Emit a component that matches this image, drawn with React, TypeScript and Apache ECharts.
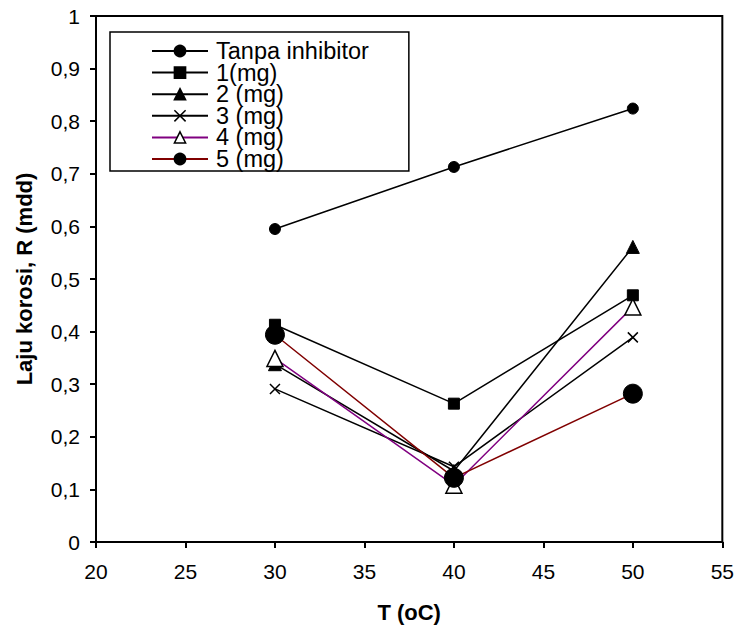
import React, { useEffect, useRef } from "react";
import * as echarts from "echarts";

const temps = [30, 40, 50];
const seriesNames = ["Tanpa inhibitor", "1(mg)", "2 (mg)", "3 (mg)", "4 (mg)", "5 (mg)"];
const tanpa = [0.595, 0.713, 0.824];
const mg1 = [0.413, 0.263, 0.469];
const mg2 = [0.338, 0.135, 0.561];
const mg3 = [0.291, 0.143, 0.389];
const mg4 = [0.349, 0.108, 0.447];
const mg5 = [0.394, 0.122, 0.282];

const FONT = "'Liberation Sans', Arial, sans-serif";
const CROSS = "path://M0,0L10,10M10,0L0,10";

function pairs(vals: number[]) {
  return temps.map((t, i) => [t, vals[i]]);
}

export default function App() {
  const ref = useRef<HTMLDivElement>(null);
  useEffect(() => {
    if (!ref.current) return;
    const chart = echarts.init(ref.current, null, { renderer: "svg" });
    const mk = (
      name: string,
      vals: number[],
      symbol: string,
      size: number,
      lineColor: string,
      fill: string,
      bw: number
    ) => ({
      type: "line",
      name,
      data: pairs(vals),
      symbol,
      symbolSize: size,
      showAllSymbol: true,
      lineStyle: { color: lineColor, width: 1.5 },
      itemStyle: { color: fill, borderColor: "#000", borderWidth: bw },
      emphasis: { disabled: true },
    });
    chart.setOption({
      animation: false,
      backgroundColor: "#fff",
      textStyle: { fontFamily: FONT },
      grid: {
        left: 96,
        top: 16,
        right: 12,
        bottom: 86,
        show: true,
        borderColor: "#000",
        borderWidth: 2,
      },
      legend: {
        data: seriesNames,
        orient: "vertical",
        left: 110,
        top: 32,
        padding: [7, 40, 0, 41],
        itemGap: -2.4,
        itemWidth: 56,
        itemHeight: 14,
        selectedMode: false,
        borderColor: "#000",
        borderWidth: 1.5,
        backgroundColor: "#fff",
        itemStyle: { borderWidth: 1.5 },
        textStyle: {
          fontFamily: FONT,
          fontSize: 23.5,
          lineHeight: 22,
          color: "#000",
          padding: [0, 0, 0, 3],
        },
      },
      xAxis: {
        type: "value",
        min: 20,
        max: 55,
        interval: 5,
        name: "T (oC)",
        nameLocation: "middle",
        nameGap: 59,
        nameTextStyle: { fontFamily: FONT, fontSize: 22, fontWeight: "bold", color: "#000" },
        axisLine: { lineStyle: { color: "#000", width: 2 } },
        axisTick: { show: true, inside: false, length: 6, lineStyle: { color: "#000", width: 2 } },
        axisLabel: { fontFamily: FONT, fontSize: 21, color: "#000", margin: 19 },
        splitLine: { show: false },
      },
      yAxis: {
        type: "value",
        min: 0,
        max: 1,
        interval: 0.1,
        name: "Laju korosi, R (mdd)",
        nameLocation: "middle",
        nameGap: 61,
        nameTextStyle: { fontFamily: FONT, fontSize: 22, fontWeight: "bold", color: "#000" },
        axisLine: { lineStyle: { color: "#000", width: 2 } },
        axisTick: { show: true, inside: false, length: 6, lineStyle: { color: "#000", width: 2 } },
        axisLabel: {
          fontFamily: FONT,
          fontSize: 21,
          color: "#000",
          margin: 16,
          formatter: (v: number) => {
            const r = Math.round(v * 10) / 10;
            if (r === 0) return "0";
            if (r === 1) return "1";
            return r.toFixed(1).replace(".", ",");
          },
        },
        splitLine: { show: false },
      },
      series: [
        mk(seriesNames[0], tanpa, "circle", 11, "#000", "#000", 1),
        mk(seriesNames[1], mg1, "rect", 11, "#000", "#000", 1),
        mk(seriesNames[2], mg2, "triangle", 13, "#000", "#000", 1),
        mk(seriesNames[3], mg3, CROSS, 10, "#000", "#000", 1.5),
        mk(seriesNames[4], mg4, "triangle", 16, "#800080", "#fff", 1.5),
        mk(seriesNames[5], mg5, "circle", 19, "#800000", "#000", 1),
      ],
    });
    return () => chart.dispose();
  }, []);
  return (
    <div
      ref={ref}
      style={{ position: "absolute", left: 0, top: 0, width: 737, height: 628 }}
    />
  );
}
